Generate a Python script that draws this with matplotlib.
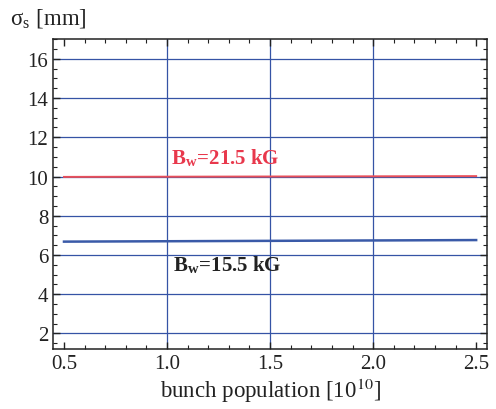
import numpy as np
import matplotlib.pyplot as plt
from matplotlib.ticker import MultipleLocator

# bunch population [1e10] and sigma_s [mm] for two wiggler fields
population = [0.5, 1.0, 1.5, 2.0, 2.5]
sigma_21_5 = [9.98, 9.99, 10.00, 10.01, 10.02]
sigma_15_5 = [6.68, 6.70, 6.72, 6.74, 6.76]
vgrid = [1.0, 1.5, 2.0]
hgrid = [2, 4, 6, 8, 10, 12, 14, 16]

plt.rcParams['font.family'] = ['Liberation Serif', 'DejaVu Serif']
plt.rcParams['mathtext.fontset'] = 'stix'

fig = plt.figure(figsize=(4.96, 4.10), dpi=100)
ax = fig.add_axes([0.107, 0.146, 0.875, 0.756])

grid_col = '#3553a5'
for xv in vgrid:
    ax.axvline(xv, color=grid_col, lw=0.9, zorder=0)
for yv in hgrid:
    ax.axhline(yv, color=grid_col, lw=0.9, zorder=0)

ax.plot(population, sigma_21_5, color='#e8505b', lw=1.4)
ax.plot(population, sigma_15_5, color='#3a5aa8', lw=1.8)

ax.text(1.02, 10.4, r'B$_\mathregular{w}$=21.5 kG', color='#e8384c', fontsize=15,
        fontweight='bold', va='bottom')
ax.text(1.03, 4.95, r'B$_\mathregular{w}$=15.5 kG', color='#222222', fontsize=15,
        fontweight='bold', va='bottom')

ax.set_xlim(0.447, 2.553)
ax.set_ylim(1.2, 17.0)
ax.xaxis.set_minor_locator(MultipleLocator(0.1))
ax.yaxis.set_major_locator(MultipleLocator(2))
ax.yaxis.set_minor_locator(MultipleLocator(0.5))
ax.set_xticks([0.5, 1.0, 1.5, 2.0, 2.5])
ax.set_xticklabels(['0.5', '1.0', '1.5', '2.0', '2.5'])
ax.tick_params(which='both', direction='in', top=True, right=True, labelsize=15, colors='#222222')
ax.tick_params(which='major', length=5, width=1)
ax.tick_params(which='minor', length=3, width=0.8)
for s in ax.spines.values():
    s.set_color('#222222')
    s.set_linewidth(1.1)

ax.set_xlabel(r'bunch population [10$^{10}$]', fontsize=16.5, color='#222222', labelpad=2)
fig.text(0.02, 0.955, r'σ$_\mathregular{s}$ [mm]', fontsize=16.5, color='#222222', va='center')

fig.savefig('out.png', dpi=100)
